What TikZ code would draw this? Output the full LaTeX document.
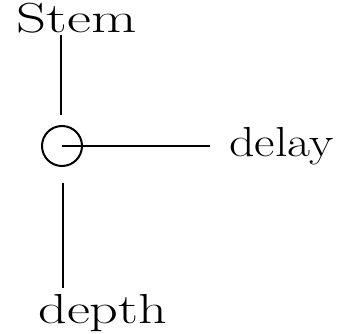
\documentclass[tikz,border=0pt]{standalone}
\usepackage{fontspec}
\setmainfont{Latin Modern Roman}
\begin{document}
\begin{tikzpicture}[x=1pt,y=-1pt, line width=2pt,
  lbl/.style={font=\fontsize{42}{46}\selectfont, inner sep=0pt},
  ring/.style={draw, circle, minimum size=40pt, inner sep=0pt, line width=2pt}]
\useasboundingbox (0,0) rectangle (351,334);
\node[lbl, anchor=base west, xscale=1.4] (stem) at (15,33) {Stem};
\node[ring] (c) at (62,146) {};
\node[lbl, anchor=base west, xscale=1.19] (delay) at (228,157) {delay};
\node[lbl, anchor=base west, xscale=1.34] (depth) at (37,323) {depth};
\coordinate (a1) at (61,35);
\coordinate (a2) at (61,115);
\coordinate (b1) at (63,183);
\coordinate (b2) at (63,288);
\coordinate (h2) at (210,146);
\draw (a1) -- (a2);
\draw (c.center) -- (h2);
\draw (b1) -- (b2);
\end{tikzpicture}
\end{document}
